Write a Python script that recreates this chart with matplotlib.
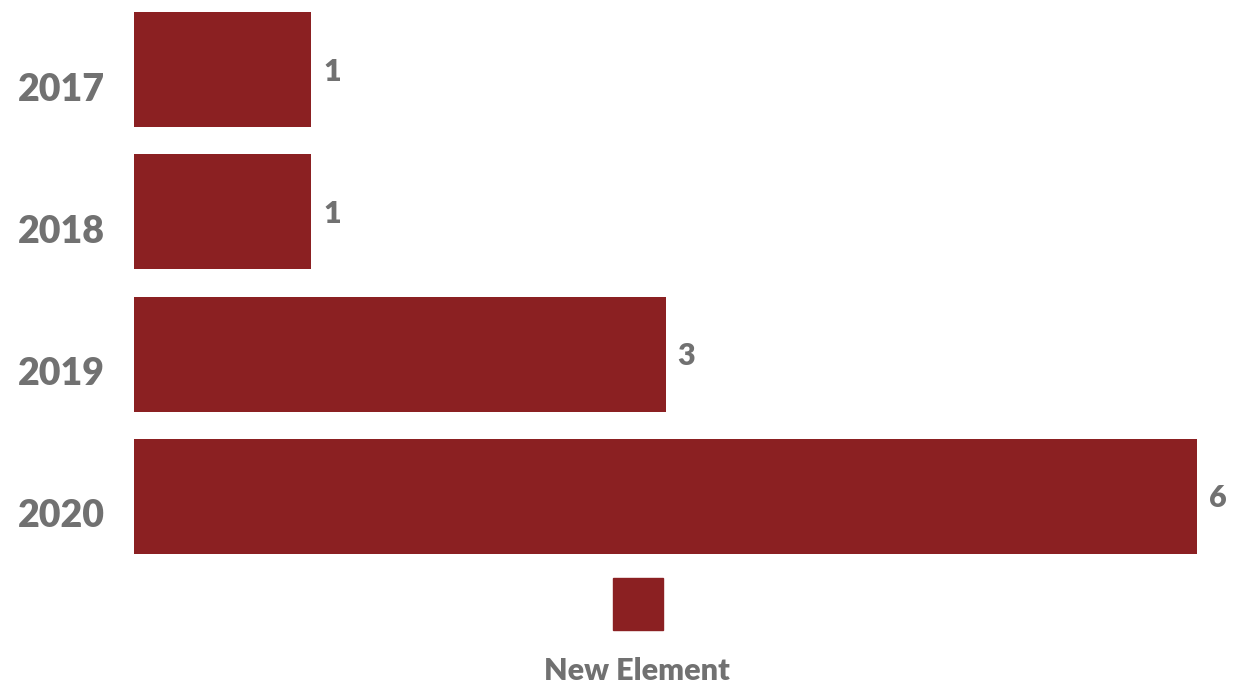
import matplotlib.pyplot as plt
from matplotlib.patches import Rectangle

# data
years = ["2017", "2018", "2019", "2020"]
values = [1, 1, 3, 6]
series_name = "New Element"

bar_color = "#8B2022"
text_color = "#717171"
W, H = 1243, 691

plt.rcParams['font.family'] = ['Lato', 'DejaVu Sans']

fig = plt.figure(figsize=(W / 100, H / 100), dpi=100)
# axes placed in pixels: bars start at x=134, 6 units end at x=1197
ax = fig.add_axes([134 / W, 1 - 554 / H, (1197 - 134) / W, (554 - 12) / H])

pos = list(range(len(years)))
bars = ax.barh(pos, values, height=0.81, color=bar_color)
ax.set_xlim(0, 6)
ax.set_ylim(3.405, -0.405)
ax.axis('off')

# year labels, sitting a bit below bar centre
for i, y in enumerate(years):
    ax.annotate(y, xy=(0, i), xytext=(-29 * 0.72, -20 * 0.72),
                textcoords='offset points', ha='right', va='center',
                fontsize=27, fontweight='heavy', color=text_color,
                annotation_clip=False)

# value labels
for i, v in enumerate(values):
    ax.annotate(str(v), xy=(v, i), xytext=(12 * 0.72, -2 * 0.72),
                textcoords='offset points', ha='left', va='center',
                fontsize=22, fontweight='heavy', color=text_color,
                annotation_clip=False)

# legend: swatch above label
fig.patches.append(Rectangle((613 / W, 1 - 630 / H), 50 / W, 52 / H,
                             transform=fig.transFigure, color=bar_color))
fig.text(637 / W, 1 - 671 / H, series_name, ha='center', va='center',
         fontsize=22, fontweight='heavy', color=text_color)

fig.savefig("out.png", dpi=100)
